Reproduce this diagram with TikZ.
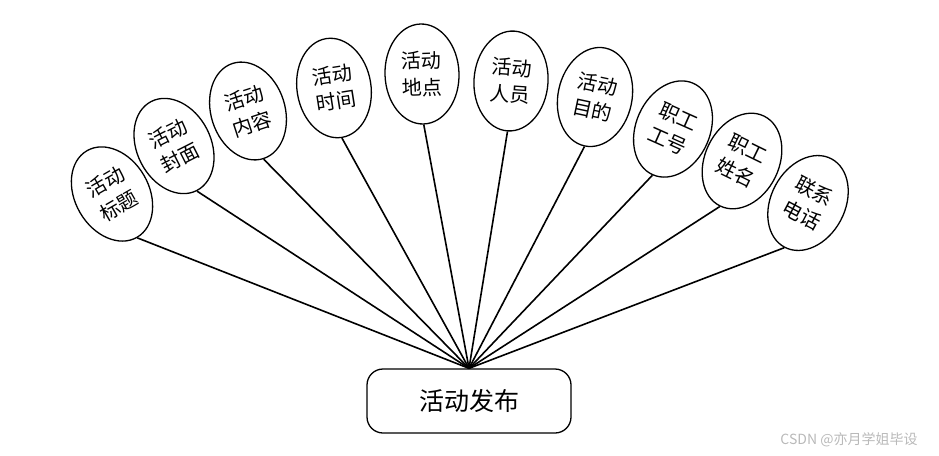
\documentclass[tikz,border=0pt]{standalone}
\usepackage{fontspec}
\newfontfamily\cjk{Noto Sans CJK SC}
\usetikzlibrary{shapes.geometric}

\begin{document}
\begin{tikzpicture}[x=1pt, y=-1pt,
    attr/.style={ellipse, draw, line width=1.3pt, fill=white, minimum width=74pt, minimum height=100pt,
                 inner sep=0pt, align=center, font=\cjk\fontsize{20}{27}\selectfont},
    entity/.style={rectangle, rounded corners=16pt, draw, line width=1.3pt, minimum width=204pt,
                   minimum height=64pt, font=\cjk\fontsize{25}{30}\selectfont},
    link/.style={line width=1.6pt}]
  \useasboundingbox (0,0) rectangle (939,455);
  \node[entity] (pub) at (469,401) {活动发布};
  % attributes, left to right
  \node[attr, rotate=30]  (title)  at (112,194) {活动\\标题};
  \node[attr, rotate=27]  (cover)  at (174,146) {活动\\封面};
  \node[attr, rotate=18]  (content) at (248,111) {活动\\内容};
  \node[attr, rotate=9]   (time)   at (334,88)  {活动\\时间};
  \node[attr, rotate=2]   (place)  at (422,74)  {活动\\地点};
  \node[attr, rotate=-4]  (staff)  at (511,81)  {活动\\人员};
  \node[attr, rotate=-12] (aim)    at (595,97)  {活动\\目的};
  \node[attr, rotate=-24] (empno)  at (673,129) {职工\\工号};
  \node[attr, rotate=-26] (empname) at (742,161) {职工\\姓名};
  \node[attr, rotate=-28] (phone)  at (808,203) {联系\\电话};
  \foreach \n in {title,cover,content,time,place,staff,aim,empno,empname,phone}
    \draw[link] (pub.north) -- (\n.south);
  \node[font=\cjk\fontsize{14}{16}\selectfont, text=gray!55] (mark) at (849,440) {CSDN @亦月学姐毕设};
\end{tikzpicture}
\end{document}
